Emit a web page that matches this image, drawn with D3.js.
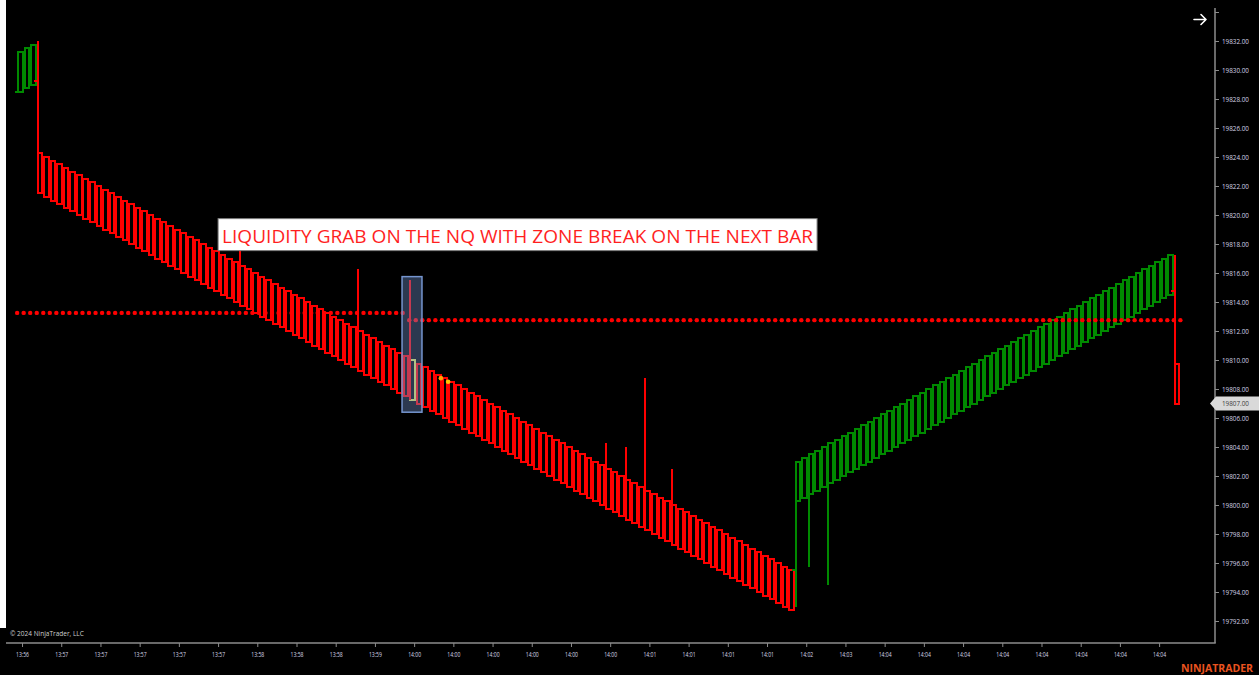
<!DOCTYPE html>
<html>
<head>
<meta charset="utf-8">
<script src="https://cdn.jsdelivr.net/npm/d3@7"></script>
<style>
html, body { margin: 0; padding: 0; background: #000; }
svg { display: block; }
text { font-family: "Open Sans", "Noto Sans", sans-serif; }
</style>
</head>
<body>
<svg id="chart" width="1259" height="675"></svg>
<script>
// ---------------------------- DATA ----------------------------
// Time labels along the bottom (one every 6 bars)
const timeLabels = ["13:56", "13:57", "13:57", "13:57", "13:57", "13:57", "13:58", "13:58", "13:58", "13:59",
    "14:00", "14:00", "14:00", "14:00", "14:00", "14:00", "14:01", "14:01", "14:01", "14:01",
    "14:02", "14:03", "14:04", "14:04", "14:04", "14:04", "14:04", "14:04", "14:04", "14:04"];

// Price ticks on the right axis
const priceTicks = [19792, 19794, 19796, 19798, 19800, 19802, 19804, 19806, 19808, 19810, 19812,
    19814, 19816, 19818, 19820, 19822, 19824, 19826, 19828, 19830, 19832, 19834];

// Bar opens (index 0..177)
const opens = [
    19828.5, 19828.75, 19829,
    19824.25, 19824, 19823.75, 19823.5, 19823.25, 19823, 19822.75, 19822.5, 19822.25, 19822,
    19821.75, 19821.5, 19821.25, 19821, 19820.75, 19820.5, 19820.25, 19820,
    19819.75, 19819.5, 19819.25, 19819, 19818.75, 19818.5, 19818.25, 19818,
    19817.75, 19817.5, 19817.25, 19817, 19816.75, 19816.5, 19816.25, 19816,
    19815.75, 19815.5, 19815.25, 19815, 19814.75, 19814.5, 19814.25, 19814,
    19813.75, 19813.5, 19813.25, 19813, 19812.75, 19812.5, 19812.25, 19812,
    19811.75, 19811.5, 19811.25, 19811, 19810.75, 19810.5, 19810.25, 19810,
    19809.75, 19809.5, 19809.25, 19809, 19808.75, 19808.5, 19808.25, 19808,
    19807.75, 19807.5, 19807.25, 19807, 19806.75, 19806.5, 19806.25, 19806,
    19805.75, 19805.5, 19805.25, 19805, 19804.75, 19804.5, 19804.25, 19804,
    19803.75, 19803.5, 19803.25, 19803, 19802.75, 19802.5, 19802.25, 19802,
    19801.75, 19801.5, 19801.25, 19801, 19800.75, 19800.5, 19800.25, 19800,
    19799.75, 19799.5, 19799.25, 19799, 19798.75, 19798.5, 19798.25, 19798,
    19797.75, 19797.5, 19797.25, 19797, 19796.75, 19796.5, 19796.25, 19796,
    19795.75, 19795.5,
    19800.25, 19800.5, 19800.75, 19801, 19801.25, 19801.5, 19801.75, 19802, 19802.25,
    19802.5, 19802.75, 19803, 19803.25, 19803.5, 19803.75, 19804, 19804.25,
    19804.5, 19804.75, 19805, 19805.25, 19805.5, 19805.75, 19806, 19806.25,
    19806.5, 19806.75, 19807, 19807.25, 19807.5, 19807.75, 19808, 19808.25,
    19808.5, 19808.75, 19809, 19809.25, 19809.5, 19809.75, 19810, 19810.25,
    19810.5, 19810.75, 19811, 19811.25, 19811.5, 19811.75, 19812, 19812.25,
    19812.5, 19812.75, 19813, 19813.25, 19813.5, 19813.75, 19814, 19814.25, 19814.5,
    19809.75
];

// Bar closes (index 0..177)
const closes = [
    19831.25, 19831.5, 19831.75,
    19821.5, 19821.25, 19821, 19820.75, 19820.5, 19820.25, 19820, 19819.75, 19819.5, 19819.25,
    19819, 19818.75, 19818.5, 19818.25, 19818, 19817.75, 19817.5, 19817.25,
    19817, 19816.75, 19816.5, 19816.25, 19816, 19815.75, 19815.5, 19815.25,
    19815, 19814.75, 19814.5, 19814.25, 19814, 19813.75, 19813.5, 19813.25,
    19813, 19812.75, 19812.5, 19812.25, 19812, 19811.75, 19811.5, 19811.25,
    19811, 19810.75, 19810.5, 19810.25, 19810, 19809.75, 19809.5, 19809.25,
    19809, 19808.75, 19808.5, 19808.25, 19808, 19807.75, 19807.5, 19807.25,
    19807, 19806.75, 19806.5, 19806.25, 19806, 19805.75, 19805.5, 19805.25,
    19805, 19804.75, 19804.5, 19804.25, 19804, 19803.75, 19803.5, 19803.25,
    19803, 19802.75, 19802.5, 19802.25, 19802, 19801.75, 19801.5, 19801.25,
    19801, 19800.75, 19800.5, 19800.25, 19800, 19799.75, 19799.5, 19799.25,
    19799, 19798.75, 19798.5, 19798.25, 19798, 19797.75, 19797.5, 19797.25,
    19797, 19796.75, 19796.5, 19796.25, 19796, 19795.75, 19795.5, 19795.25,
    19795, 19794.75, 19794.5, 19794.25, 19794, 19793.75, 19793.5, 19793.25,
    19793, 19792.75,
    19803, 19803.25, 19803.5, 19803.75, 19804, 19804.25, 19804.5, 19804.75, 19805,
    19805.25, 19805.5, 19805.75, 19806, 19806.25, 19806.5, 19806.75, 19807,
    19807.25, 19807.5, 19807.75, 19808, 19808.25, 19808.5, 19808.75, 19809,
    19809.25, 19809.5, 19809.75, 19810, 19810.25, 19810.5, 19810.75, 19811,
    19811.25, 19811.5, 19811.75, 19812, 19812.25, 19812.5, 19812.75, 19813,
    19813.25, 19813.5, 19813.75, 19814, 19814.25, 19814.5, 19814.75, 19815,
    19815.25, 19815.5, 19815.75, 19816, 19816.25, 19816.5, 19816.75, 19817, 19817.25,
    19807
];

// Wicks sticking out of the boxes
const upperWickBars = [3, 34, 52, 60, 90, 93, 96, 100, 177];
const upperWickHighs = [19832, 19818, 19816.25, 19815.5, 19804.25, 19804, 19808.75, 19802.5, 19817.25];
const lowerWickBars = [119, 121, 124];
const lowerWickLows = [19793, 19795.75, 19794.5];

// Small open ticks on the reversal bars
const openTickBars = [0, 3, 119, 177];
const openTickPrices = [19828.5, 19829.25, 19795.5, 19814.75];

// Signal bar (painted yellow) and its dots
const signalBar = 60;
const signalDotBars = [64.35, 65.45];
const signalDotPrices = [19808.75, 19808.5];

// Dotted zone levels
const levelPrices = [19813.25, 19812.75];
const levelFirstBar = [0, 60];
const levelLastBar = [59, 178];

// Highlight box around the liquidity grab
const highlightBars = [58.4, 61.45];
const highlightPrices = [19815.75, 19806.4];

const lastPrice = 19807;
const noteText = "LIQUIDITY GRAB ON THE NQ WITH ZONE BREAK ON THE NEXT BAR";

// ---------------------------- SETUP ----------------------------
const width = 1259;
const height = 675;
const axisX = 1215;   // right price axis line
const axisY = 643;    // bottom time axis line

const bull = "#008a00";
const bear = "#ff0000";
const signal = "#dde35a";

const svg = d3.select("#chart");

svg.append("rect")
    .attr("width", width)
    .attr("height", height)
    .attr("fill", "#000");

// thin white window edge on the left
svg.append("rect")
    .attr("x", 0).attr("y", 0)
    .attr("width", 6).attr("height", 628)
    .attr("fill", "#fff");

const x = d3.scaleLinear()
    .domain([0, 177])
    .range([20.4, 20.4 + 177 * 6.535]);
const y = d3.scaleLinear()
    .domain([19792, 19832])
    .range([621, 41]);

const bars = opens.map((o, i) => ({ i: i, open: o, close: closes[i] }));

function barColour(d) {
    if (d.i === signalBar) {
        return signal;
    } else if (d.close > d.open) {
        return bull;
    } else {
        return bear;
    };
};

// ---------------------------- AXES ----------------------------
const axisColour = "#8c8c8c";
const labelColour = "#d4d4e6";

svg.append("line")
    .attr("x1", axisX).attr("x2", axisX)
    .attr("y1", 8).attr("y2", axisY)
    .attr("stroke", axisColour).attr("stroke-width", 1.5);
svg.append("line")
    .attr("x1", 6).attr("x2", axisX + 0.75)
    .attr("y1", axisY).attr("y2", axisY)
    .attr("stroke", axisColour).attr("stroke-width", 1.5);

const yAxis = svg.append("g")
    .attr("transform", "translate(" + axisX + ",0)")
    .call(d3.axisRight(y)
        .tickValues(priceTicks)
        .tickSize(4)
        .tickPadding(3)
        .tickFormat(d => d <= 19832 ? d3.format(".2f")(d) : ""));
yAxis.select(".domain").remove();
yAxis.selectAll("line").attr("stroke", axisColour);
yAxis.selectAll("text")
    .attr("fill", labelColour)
    .attr("font-size", 7.5)
    .attr("textLength", d => d <= 19832 ? 27 : null)
    .attr("lengthAdjust", "spacingAndGlyphs");

const tickIndex = timeLabels.map((t, k) => 0.25 + k * 6);
const xAxis = svg.append("g")
    .attr("transform", "translate(0," + axisY + ")")
    .call(d3.axisBottom(x)
        .tickValues(tickIndex)
        .tickSize(4)
        .tickPadding(5)
        .tickFormat((d, k) => timeLabels[k]));
xAxis.select(".domain").remove();
xAxis.selectAll("line").attr("stroke", axisColour);
xAxis.selectAll("text")
    .attr("fill", labelColour)
    .attr("font-size", 7)
    .attr("textLength", 13)
    .attr("lengthAdjust", "spacingAndGlyphs");

// ---------------------------- BARS ----------------------------
const plot = svg.append("g").attr("shape-rendering", "crispEdges");

plot.selectAll("rect.box")
    .data(bars)
    .join("rect")
    .attr("class", "box")
    .attr("x", d => x(d.i) - 2.3)
    .attr("width", 4.6)
    .attr("y", d => y(Math.max(d.open, d.close)))
    .attr("height", d => y(Math.min(d.open, d.close)) - y(Math.max(d.open, d.close)))
    .attr("fill", "none")
    .attr("stroke", barColour)
    .attr("stroke-width", 2);

// upper wicks run down the left edge of the box
plot.selectAll("line.upWick")
    .data(upperWickBars)
    .join("line")
    .attr("class", "upWick")
    .attr("x1", b => x(b) - 2.3).attr("x2", b => x(b) - 2.3)
    .attr("y1", (b, k) => y(upperWickHighs[k]))
    .attr("y2", b => y(Math.min(opens[b], closes[b])))
    .attr("stroke", bear)
    .attr("stroke-width", 2);

plot.selectAll("line.downWick")
    .data(lowerWickBars)
    .join("line")
    .attr("class", "downWick")
    .attr("x1", b => x(b) - 2.3).attr("x2", b => x(b) - 2.3)
    .attr("y1", (b, k) => y(lowerWickLows[k]))
    .attr("y2", b => y(Math.max(opens[b], closes[b])))
    .attr("stroke", bull)
    .attr("stroke-width", 2);

plot.selectAll("line.openTick")
    .data(openTickBars)
    .join("line")
    .attr("class", "openTick")
    .attr("x1", b => x(b) - 5.8).attr("x2", b => x(b) - 2.3)
    .attr("y1", (b, k) => y(openTickPrices[k]))
    .attr("y2", (b, k) => y(openTickPrices[k]))
    .attr("stroke", b => closes[b] > opens[b] ? bull : bear)
    .attr("stroke-width", 2);

// ---------------------------- LEVELS ----------------------------
levelPrices.forEach((p, k) => {
    const idx = d3.range(levelFirstBar[k], levelLastBar[k] + 1);
    svg.append("g")
        .selectAll("circle")
        .data(idx)
        .join("circle")
        .attr("cx", i => x(i - 0.5))
        .attr("cy", y(p))
        .attr("r", 2.2)
        .attr("fill", bear);
});

svg.selectAll("circle.sig")
    .data(signalDotBars)
    .join("circle")
    .attr("class", "sig")
    .attr("cx", b => x(b))
    .attr("cy", (b, k) => y(signalDotPrices[k]))
    .attr("r", 2.3)
    .attr("fill", (b, k) => k === 0 ? "#ffa200" : "#ffc400");

// highlight box over the grab bar
svg.append("rect")
    .attr("x", x(highlightBars[0]))
    .attr("width", x(highlightBars[1]) - x(highlightBars[0]))
    .attr("y", y(highlightPrices[0]))
    .attr("height", y(highlightPrices[1]) - y(highlightPrices[0]))
    .attr("fill", "rgb(111,143,200)")
    .attr("fill-opacity", 0.4)
    .attr("stroke", "#7595cf")
    .attr("stroke-width", 1.5);

// ---------------------------- TEXT ----------------------------
const note = svg.append("g")
    .attr("transform", "translate(" + x(30.25) + "," + y(19819.75) + ")");
note.append("rect")
    .attr("width", 599).attr("height", 32)
    .attr("fill", "#fff")
    .attr("stroke", "#7a7a7a");
note.append("text")
    .attr("x", 4).attr("y", 24)
    .attr("font-size", 19)
    .attr("fill", "#ff1f1f")
    .attr("textLength", 591)
    .attr("lengthAdjust", "spacingAndGlyphs")
    .text(noteText);

// last price flag
const ly = y(lastPrice);
svg.append("polygon")
    .attr("points", [[1210, ly], [1216, ly - 7], [1259, ly - 7], [1259, ly + 7], [1216, ly + 7]].join(" "))
    .attr("fill", "#d9d9d9");
svg.append("text")
    .attr("x", 1222).attr("y", ly + 2.7)
    .attr("font-size", 7.5)
    .attr("fill", "#3a3a3a")
    .attr("textLength", 27)
    .attr("lengthAdjust", "spacingAndGlyphs")
    .text(d3.format(".2f")(lastPrice));

svg.append("text")
    .attr("x", 10).attr("y", 636)
    .attr("font-size", 6.5)
    .attr("fill", "#cfcfcf")
    .text("© 2024 NinjaTrader, LLC");

// scroll-to-end arrow icon in the top right corner
svg.append("path")
    .attr("d", "M1194,19.5 L1206,19.5 M1201,14.5 L1206,19.5 L1201,24.5")
    .attr("fill", "none")
    .attr("stroke", "#fff")
    .attr("stroke-width", 1.6)
    .attr("stroke-linecap", "round")
    .attr("stroke-linejoin", "round");

svg.append("text")
    .attr("x", 1253).attr("y", 672)
    .attr("text-anchor", "end")
    .attr("font-size", 10.5)
    .attr("font-weight", "bold")
    .attr("fill", "#e9531f")
    .text("NINJATRADER");
</script>
</body>
</html>
